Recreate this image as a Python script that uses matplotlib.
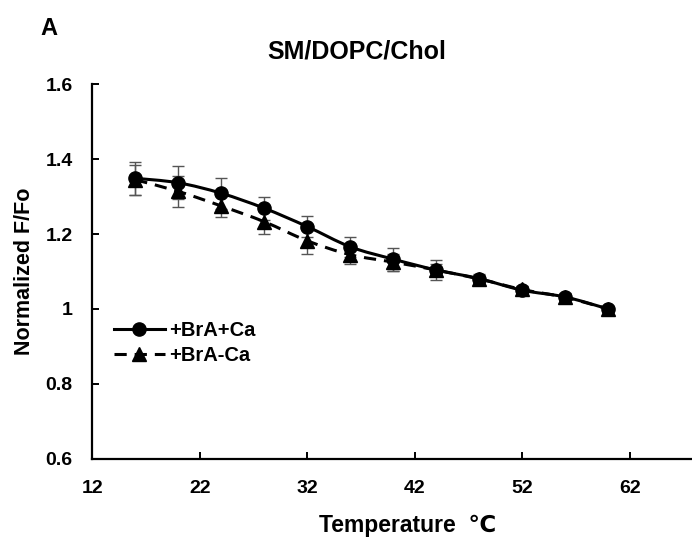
import numpy as np
import matplotlib
matplotlib.use("Agg")
import matplotlib.pyplot as plt
from matplotlib.path import Path
from matplotlib.patches import PathPatch
from matplotlib.lines import Line2D

plt.rcParams['font.family'] = ['Liberation Sans', 'DejaVu Sans']
plt.rcParams['font.weight'] = 'bold'

# Data
temperature = [16, 20, 24, 28, 32, 36, 40, 44, 48, 52, 56, 60]
with_ca = [1.349, 1.337, 1.309, 1.269, 1.220, 1.166, 1.133, 1.104, 1.081, 1.050, 1.032, 1.000]
with_ca_err = [0.044, 0.044, 0.041, 0.031, 0.029, 0.027, 0.031, 0.027, 0.012, 0.010, 0.010, 0.005]
without_ca = [1.345, 1.314, 1.275, 1.233, 1.182, 1.145, 1.125, 1.104, 1.080, 1.052, 1.031, 1.000]
without_ca_err = [0.040, 0.042, 0.030, 0.032, 0.035, 0.026, 0.023, 0.015, 0.010, 0.008, 0.008, 0.005]

xticks = [12, 22, 32, 42, 52, 62]
yticks = [0.6, 0.8, 1.0, 1.2, 1.4, 1.6]
yticklabels = ['0.6', '0.8', '1', '1.2', '1.4', '1.6']


def smooth_path(x, y):
    # Excel-style smoothed line: cubic Bezier segments through the points
    x = np.asarray(x, float)
    y = np.asarray(y, float)
    n = len(x)
    verts = [(x[0], y[0])]
    codes = [Path.MOVETO]
    for i in range(n - 1):
        i0 = max(i - 1, 0)
        i3 = min(i + 2, n - 1)
        c1 = (x[i] + (x[i + 1] - x[i0]) / 6, y[i] + (y[i + 1] - y[i0]) / 6)
        c2 = (x[i + 1] - (x[i3] - x[i]) / 6, y[i + 1] - (y[i3] - y[i]) / 6)
        verts += [c1, c2, (x[i + 1], y[i + 1])]
        codes += [Path.CURVE4] * 3
    return Path(verts, codes)


fig = plt.figure(figsize=(6.92, 5.44), dpi=100)
ax = fig.add_axes([0.1334, 0.1568, 0.8666, 0.6882])

dash = (0, (4, 2.6))

ax.add_patch(PathPatch(smooth_path(temperature, with_ca), fill=False,
                       edgecolor='black', lw=2.2, zorder=3))
ax.add_patch(PathPatch(smooth_path(temperature, without_ca), fill=False,
                       edgecolor='black', lw=2.2, linestyle=dash, zorder=3))

ax.errorbar(temperature, with_ca, yerr=with_ca_err, fmt='none',
            ecolor='#555555', elinewidth=1, capsize=4, capthick=1, zorder=2)
ax.errorbar(temperature, without_ca, yerr=without_ca_err, fmt='none',
            ecolor='#555555', elinewidth=1, capsize=4, capthick=1, zorder=2)

ax.plot(temperature, with_ca, 'o', color='black', ms=9.5, zorder=4)
ax.plot(temperature, without_ca, '^', color='black', ms=9.5, zorder=4)

ax.set_xlim(12, 67.8)
ax.set_ylim(0.6, 1.6)
ax.set_xticks(xticks)
ax.set_yticks(yticks)
ax.set_yticklabels(yticklabels)
ax.tick_params(direction='in', length=5, width=1.4, labelsize=14)
ax.tick_params(axis='x', pad=15)
ax.tick_params(axis='y', pad=14)
for lab in ax.get_xticklabels() + ax.get_yticklabels():
    lab.set_fontweight('bold')
ax.spines['top'].set_visible(False)
ax.spines['right'].set_visible(False)
ax.spines['left'].set_linewidth(1.6)
ax.spines['bottom'].set_linewidth(1.6)

ax.set_xlabel('Temperature  \u2103', fontsize=16.5, fontweight='bold')
ax.xaxis.set_label_coords(0.525, -0.147)
ax.set_ylabel('Normalized F/Fo', fontsize=15.5, fontweight='bold', labelpad=8)

handles = [
    Line2D([], [], color='black', lw=2.2, marker='o', ms=9.5),
    Line2D([], [], color='black', lw=2.2, linestyle=dash, marker='^', ms=9.5),
]
ax.legend(handles, ['+BrA+Ca', '+BrA-Ca'], loc='upper left',
          bbox_to_anchor=(0.013, 0.405), frameon=False, handlelength=2.5,
          handletextpad=0.25, labelspacing=0.3, borderaxespad=0.3,
          prop={'size': 14.5, 'weight': 'bold'})

fig.text(0.515, 0.905, 'SM/DOPC/Chol', ha='center', va='center', fontsize=18, fontweight='bold')
fig.text(0.07, 0.948, 'A', ha='center', va='center', fontsize=17, fontweight='bold')

fig.savefig('out.png', dpi=100)
